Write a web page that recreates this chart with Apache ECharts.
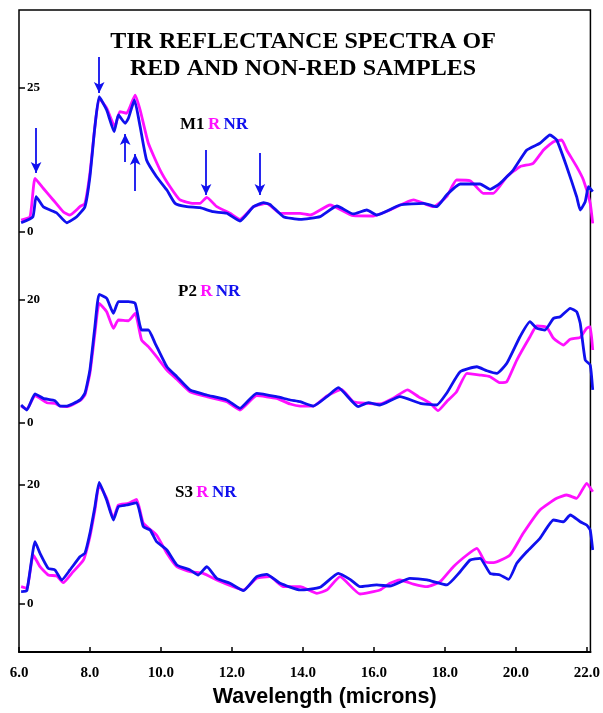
<!DOCTYPE html>
<html><head><meta charset="utf-8">
<script src="https://cdn.jsdelivr.net/npm/echarts@6/dist/echarts.min.js"></script>
<style>html,body{margin:0;padding:0;background:#fff}#c{width:603px;height:713px}</style>
</head><body><div id="c"></div>
<script>
// ---- tick labels ----
const xTicks = [6, 8, 10, 12, 14, 16, 18, 20, 22];
const m1Ticks = [0, 25];
const p2Ticks = [0, 20];
const s3Ticks = [0, 20];

// ---- M1 ----
const m1RWave = [6.06,6.31,6.45,6.68,6.96,7.24,7.43,7.71,7.85,7.99,8.13,8.25,8.46,8.69,8.83,9.02,9.26,9.40,9.63,9.96,10.24,10.52,10.89,11.08,11.27,11.55,11.92,12.20,12.58,12.95,13.33,13.89,14.17,14.73,15.38,15.94,16.41,17.07,17.63,18.00,18.28,18.66,19.03,19.31,19.69,20.06,20.43,20.72,21.00,21.23,21.37,21.65,21.84,22.03,22.10];
const m1RVal  = [2.08,2.66,9.32,7.59,5.56,3.52,2.95,4.39,4.98,10.19,18.28,23.21,21.48,18.28,20.89,20.61,23.78,21.18,15.40,10.76,7.86,5.56,4.98,4.98,6.02,4.39,3.25,2.20,4.39,4.98,3.25,3.25,2.95,4.69,2.83,2.78,3.82,5.56,4.39,6.13,9.03,8.91,6.72,6.72,9.60,11.34,11.93,14.24,15.68,15.97,14.24,11.34,9.03,4.98,1.51];
const m1NRWave = [6.06,6.39,6.48,6.68,6.87,7.06,7.34,7.62,7.85,7.99,8.13,8.25,8.46,8.67,8.79,8.98,9.07,9.24,9.40,9.58,9.86,10.15,10.38,10.71,11.08,11.45,11.83,12.20,12.58,12.86,13.04,13.42,13.89,14.45,14.92,15.38,15.76,16.04,16.69,17.35,17.72,18.00,18.38,18.94,19.22,19.50,19.87,20.25,20.62,20.90,21.09,21.37,21.65,21.75,21.89,21.98,22.10];
const m1NRVal  = [1.61,2.66,6.13,4.39,3.82,3.30,1.61,2.66,4.39,9.60,18.28,23.49,21.18,17.41,20.31,18.87,19.74,22.92,18.28,12.50,9.60,7.29,4.98,4.39,4.22,3.52,3.25,1.91,4.39,5.09,4.81,2.66,2.20,2.66,4.51,3.13,3.82,2.95,4.69,4.98,4.39,6.42,8.33,8.33,7.41,8.45,10.76,14.24,15.40,16.84,15.97,11.34,6.13,3.82,5.26,7.86,7.00];

// ---- P2 ----
const p2RWave = [6.06,6.22,6.45,6.78,7.01,7.15,7.34,7.71,7.85,7.99,8.13,8.25,8.46,8.65,8.79,9.07,9.26,9.44,9.63,9.86,10.15,10.43,10.80,11.27,11.83,12.20,12.67,13.23,13.61,13.89,14.26,14.64,15.05,15.38,15.76,16.13,16.50,16.90,17.21,17.54,17.76,18.00,18.28,18.57,18.94,19.22,19.50,19.69,19.97,20.34,20.53,20.81,21.00,21.28,21.47,21.75,21.93,22.03,22.10];
const p2RVal  = [2.76,2.23,4.44,3.30,3.20,2.76,2.65,3.63,4.55,8.08,14.59,19.46,18.10,15.40,16.75,16.63,17.84,13.50,12.41,10.78,8.62,7.11,5.09,4.28,3.46,2.11,4.44,4.01,3.09,2.76,2.76,4.39,5.48,3.46,3.20,3.09,4.01,5.37,4.28,3.20,2.00,3.46,5.09,8.08,7.80,7.53,6.55,6.72,10.24,14.03,15.77,15.56,13.77,12.68,13.61,13.93,15.40,15.66,11.87];
const p2NRWave = [6.06,6.22,6.45,6.68,7.01,7.15,7.34,7.71,7.85,7.99,8.13,8.25,8.46,8.65,8.79,9.07,9.26,9.44,9.63,9.82,10.15,10.43,10.80,11.27,11.83,12.20,12.67,13.23,13.61,13.89,14.26,14.64,14.96,15.52,15.80,16.13,16.69,17.26,17.72,18.00,18.38,18.85,19.13,19.41,19.69,20.06,20.34,20.53,20.76,21.00,21.19,21.47,21.65,21.75,21.89,22.03,22.10];
const p2NRVal  = [2.93,2.11,4.72,4.01,3.63,2.76,2.76,3.74,4.83,8.62,15.66,20.92,20.28,17.84,19.72,19.72,19.46,15.12,15.12,12.96,9.15,7.53,5.37,4.55,3.74,2.39,4.83,4.28,3.74,3.46,2.76,4.28,5.74,2.65,3.30,2.93,4.28,3.20,2.93,4.83,8.34,9.15,8.50,8.08,9.71,14.03,16.47,15.40,15.12,17.02,17.28,18.65,18.10,16.21,10.24,9.43,5.37];

// ---- S3 ----
const s3RWave = [6.06,6.22,6.40,6.59,6.82,7.06,7.24,7.48,7.81,7.99,8.13,8.25,8.46,8.65,8.79,9.07,9.30,9.49,9.86,10.15,10.43,10.80,11.17,11.55,12.01,12.30,12.67,13.04,13.42,13.89,14.36,14.64,15.01,15.57,16.13,16.41,16.69,17.07,17.45,17.82,18.19,18.57,18.85,19.08,19.32,19.78,20.15,20.62,21.09,21.37,21.65,21.93,22.10];
const s3RVal  = [2.79,2.52,8.12,6.15,4.76,4.59,3.46,5.04,7.28,11.19,15.68,19.88,17.65,14.29,16.52,16.81,17.48,13.45,11.48,8.40,6.15,5.31,5.04,3.92,2.79,2.24,4.20,4.47,2.79,2.79,1.68,2.24,4.47,1.56,2.24,3.36,3.92,3.24,2.79,3.63,6.15,8.12,9.24,6.99,6.82,8.12,11.76,15.68,17.65,18.20,17.65,20.17,18.76];
const s3NRWave = [6.06,6.22,6.45,6.59,6.82,7.01,7.20,7.43,7.71,7.85,7.99,8.13,8.25,8.46,8.65,8.79,9.02,9.30,9.49,9.68,9.86,10.15,10.43,10.80,11.03,11.27,11.55,11.92,12.30,12.67,12.95,13.33,13.89,14.45,14.96,15.29,15.57,16.04,16.41,16.97,17.45,18.00,18.38,18.66,18.94,19.22,19.50,19.74,19.97,20.25,20.62,21.00,21.28,21.47,21.75,21.93,22.03,22.10];
const s3NRVal  = [1.95,2.12,10.35,8.40,5.88,5.60,3.92,5.60,7.83,8.40,11.76,16.24,20.34,17.36,14.00,16.24,16.52,16.91,12.87,12.32,10.35,8.96,6.44,5.60,4.76,6.15,4.20,3.36,2.12,4.47,4.87,3.36,2.24,2.69,5.04,4.03,2.79,3.08,2.91,4.20,3.92,3.08,5.31,7.28,7.56,5.04,4.76,4.03,6.72,8.67,10.92,14.00,13.71,14.84,13.71,13.16,12.32,8.96];

// ---- arrow annotations (wavelength, from value, to value) in M1 units ----
const arrowWave = [6.48, 8.25, 8.98, 9.26, 11.25, 12.76];
const arrowFrom = [18.06, 30.38, 12.15, 7.12, 14.24, 13.72];
const arrowTo   = [10.24, 24.13, 17.01, 13.54, 6.42, 6.42];

const RED = '#ff10ff', BLUE = '#1010ee';
const SERIF = "'Liberation Serif', 'Times New Roman', serif";
const pair = (w, v) => w.map((x, i) => [x, v[i]]);

const X0 = 19, XW = 573.7;
const panels = [
  {top: 232 - 32 * 5.76, height: 32 * 5.76, max: 32, ticks: m1Ticks},
  {top: 300, height: 123, max: 20, ticks: p2Ticks},
  {top: 484.3, height: 119, max: 20, ticks: s3Ticks}
];

const grids = [{left: X0, top: 10, width: XW, height: 648, show: true, borderColor: '#000', borderWidth: 1.5, backgroundColor: 'transparent'}];
const xAxes = [{
  gridIndex: 0, type: 'value', min: 6, max: 22.1,
  axisLine: {show: true, lineStyle: {color: '#000', width: 2}},
  axisTick: {show: true, inside: true, length: 5, customValues: xTicks, lineStyle: {color: '#000', width: 1.5}},
  splitLine: {show: false},
  axisLabel: {customValues: xTicks, formatter: v => v.toFixed(1), margin: 14, color: '#000', fontFamily: SERIF, fontWeight: 'bold', fontSize: 15},
  name: 'Wavelength (microns)', nameLocation: 'middle', nameGap: 31,
  nameTextStyle: {color: '#000', fontFamily: "'Liberation Sans', Arial, sans-serif", fontWeight: 'bold', fontSize: 21.5, padding: [0, 0, 0, 40]}
}];
const yAxes = [{gridIndex: 0, type: 'value', min: 0, max: 1, show: false}];
panels.forEach((p, i) => {
  grids.push({left: X0, top: p.top, width: XW, height: p.height});
  xAxes.push({gridIndex: i + 1, type: 'value', min: 6, max: 22.1, show: false});
  yAxes.push({
    gridIndex: i + 1, type: 'value', min: 0, max: p.max,
    axisLine: {show: false}, splitLine: {show: false},
    axisTick: {show: true, inside: true, length: 6, customValues: p.ticks, lineStyle: {color: '#000', width: 1.5}},
    axisLabel: {inside: true, margin: 8, customValues: p.ticks, color: '#000', fontFamily: SERIF, fontWeight: 'bold', fontSize: 13}
  });
});

function line(name, data, color, idx, extra) {
  return Object.assign({
    name, type: 'line', xAxisIndex: idx, yAxisIndex: idx, data,
    showSymbol: false, symbol: 'none', clip: false, smooth: 0.15,
    lineStyle: {color, width: 2.8}, itemStyle: {color}
  }, extra || {});
}

const arrows = arrowWave.map((w, i) => [{coord: [w, arrowFrom[i]]}, {coord: [w, arrowTo[i]]}]);

const series = [
  line('M1 R', pair(m1RWave, m1RVal), RED, 1),
  line('M1 NR', pair(m1NRWave, m1NRVal), BLUE, 1, {
    markLine: {silent: true, symbol: ['none', 'arrow'], symbolSize: [8, 11], label: {show: false},
      lineStyle: {color: BLUE, width: 1.8, type: 'solid'}, emphasis: {disabled: true}, data: arrows}
  }),
  line('P2 R', pair(p2RWave, p2RVal), RED, 2),
  line('P2 NR', pair(p2NRWave, p2NRVal), BLUE, 2),
  line('S3 R', pair(s3RWave, s3RVal), RED, 3),
  line('S3 NR', pair(s3NRWave, s3NRVal), BLUE, 3)
];

const rich = {
  k: {fill: '#000', fontFamily: SERIF, fontWeight: 'bold', fontSize: 17},
  r: {fill: RED, fontFamily: SERIF, fontWeight: 'bold', fontSize: 17},
  b: {fill: BLUE, fontFamily: SERIF, fontWeight: 'bold', fontSize: 17}
};
const panelLabels = [['M1', 180, 116], ['P2', 178, 283], ['S3', 175, 484]];

const chart = echarts.init(document.getElementById('c'));
chart.setOption({
  animation: false,
  backgroundColor: '#fff',
  title: {
    text: 'TIR REFLECTANCE SPECTRA OF\nRED AND NON-RED SAMPLES',
    left: 298, textAlign: 'center', top: 23,
    textStyle: {color: '#000', fontFamily: SERIF, fontWeight: 'bold', fontSize: 24, lineHeight: 27}
  },
  grid: grids, xAxis: xAxes, yAxis: yAxes, series,
  graphic: panelLabels.map(([t, x, y]) => ({
    type: 'text', left: x, top: y,
    style: {text: '{k|' + t + '} {r|R} {b|NR}', rich}
  }))
});
</script></body></html>
